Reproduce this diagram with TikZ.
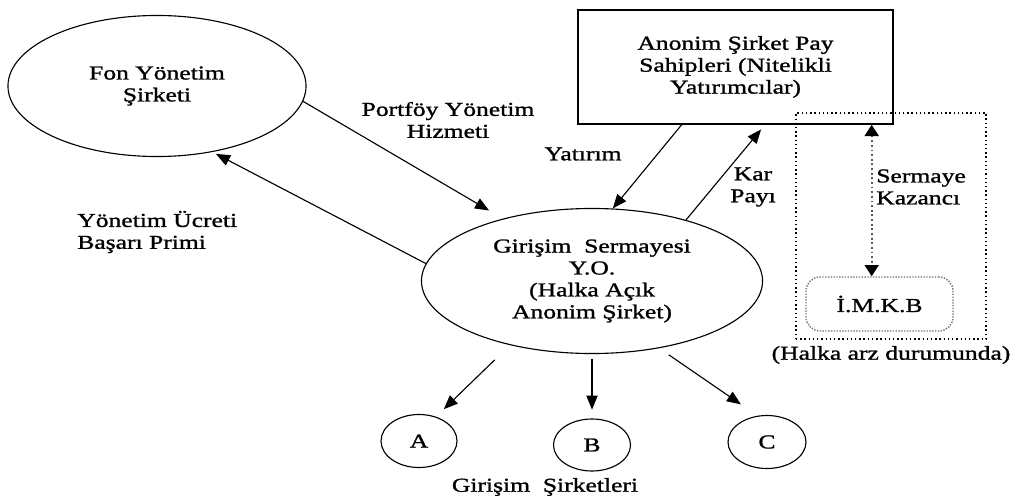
\documentclass[tikz,border=0pt]{standalone}
\usepackage{fontspec}
\setmainfont{Liberation Serif}[FakeStretch=1.3,FakeBold=1.2]
\usetikzlibrary{arrows.meta,shapes.geometric}

\begin{document}
\begin{tikzpicture}[x=0.025cm,y=-0.025cm,font=\fontsize{14}{15.6}\selectfont,
  ov/.style={draw,ellipse,inner sep=1pt,align=center,line width=0.8pt},
  bx/.style={draw,line width=1.1pt,align=center},
  lbl/.style={inner sep=0pt,align=center},
  arr/.style={-{Triangle[length=10pt,width=8pt]},line width=0.8pt},
  dotarr/.style={{Triangle[length=8pt,width=10pt,color=black]}-{Triangle[length=8pt,width=10pt,color=black]},dotted,line width=1.3pt,draw=black!65}]
\useasboundingbox (0,0) rectangle (1024,499);
\node[ov,minimum width=7.45cm,minimum height=3.525cm] (fon) at (157,86) {Fon Yönetim\\Şirketi};
\node[bx,minimum width=7.875cm,minimum height=2.85cm] (pay) at (735.5,67) {\\[-6pt]Anonim Şirket Pay\\Sahipleri (Nitelikli\\Yatırımcılar)};
\node[ov,minimum width=8.525cm,minimum height=3.625cm] (gsy) at (592,281) {Girişim\ \ Sermayesi\\Y.O.\\(Halka Açık\\Anonim Şirket)};
\node[ov,minimum width=1.9cm,minimum height=1.325cm] (a) at (419,441) {A};
\node[ov,minimum width=1.925cm,minimum height=1.3cm] (b) at (592,445) {B};
\node[ov,minimum width=1.95cm,minimum height=1.325cm] (c) at (767,442) {C};
\node[lbl] (gs) at (545,487) {Girişim\ \ Şirketleri};
% halka arz kutusu
\node[draw,dotted,line width=1pt,minimum width=4.75cm,minimum height=5.65cm] (arz) at (891,226) {};
\node[draw=black!55,densely dotted,rounded corners=10pt,line width=1pt,minimum width=3.675cm,minimum height=1.35cm] (imkb) at (879.5,304) {İ.M.K.B};
\node[lbl] (halka) at (891,355) {(Halka arz durumunda)};
% etiketler
\node[lbl] (pyh) at (448,120) {Portföy Yönetim\\Hizmeti};
\node[lbl,align=left,anchor=west] (ucret) at (77,232) {Yönetim Ücreti\\Başarı Primi};
\node[lbl] (yat) at (583,154) {Yatırım};
\node[lbl] (kar) at (753,187) {Kar\\Payı};
\node[lbl,align=left,anchor=west] (sk) at (876,187) {Sermaye\\Kazancı};
% oklar
\draw[arr,shorten >=0.4cm] (fon.-6) -- (gsy.145);
\draw[arr,shorten >=0.1cm] (gsy.174) -- (fon.-50);
\draw[arr] (pay.-133) -- (gsy.74);
\draw[arr,shorten >=0.15cm] (gsy.33) -- (pay.-63);
\draw[dotarr] (pay.-23.3) -- (pay.-23.3 |- imkb.north);
\draw[arr,shorten <=0.53cm,shorten >=0.27cm] (gsy.-142) -- (a.55);
\draw[arr,shorten <=0.12cm,shorten >=0.22cm] (gsy.-90) -- (b.90);
\draw[arr,shorten <=0.29cm,shorten >=0.5cm] (gsy.-45) -- (c.110);
\end{tikzpicture}
\end{document}
